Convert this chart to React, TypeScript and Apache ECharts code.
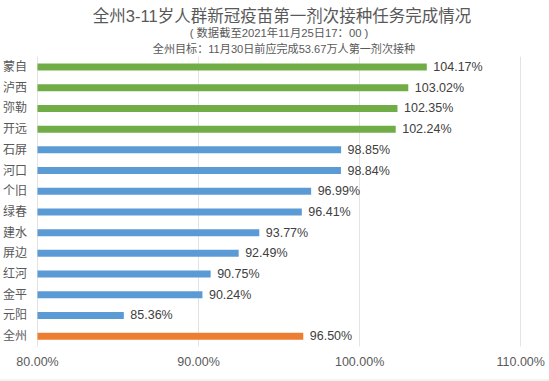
import React, { useEffect, useRef } from "react";
import * as echarts from "echarts";

const categories = ["蒙自", "泸西", "弥勒", "开远", "石屏", "河口", "个旧", "绿春", "建水", "屏边", "红河", "金平", "元阳", "全州"];
const values = [104.17, 103.02, 102.35, 102.24, 98.85, 98.84, 96.99, 96.41, 93.77, 92.49, 90.75, 90.24, 85.36, 96.5];
const groups = ["above", "above", "above", "above", "below", "below", "below", "below", "below", "below", "below", "below", "below", "total"];
const groupColors: Record<string, string> = { above: "#70ad47", below: "#5b9bd5", total: "#ed7d31" };

const titleText = "全州3-11岁人群新冠疫苗第一剂次接种任务完成情况";
const subText1 = "( 数据截至2021年11月25日17：00 )";
const subText2 = "全州目标：11月30日前应完成53.67万人第一剂次接种";

const FONT = "'Liberation Sans', 'Noto Sans CJK SC', sans-serif";

export default function App() {
  const ref = useRef<HTMLDivElement>(null);
  useEffect(() => {
    if (!ref.current) return;
    const chart = echarts.init(ref.current, undefined, { renderer: "svg" });
    chart.setOption({
      animation: false,
      backgroundColor: "#ffffff",
      textStyle: { fontFamily: FONT },
      graphic: [
        { type: "text", x: 282, y: 16, style: { text: titleText, fontSize: 16.5, fill: "#595959", textAlign: "center", textVerticalAlign: "middle", fontFamily: FONT } },
        { type: "text", x: 279, y: 33, style: { text: subText1, fontSize: 11.3, fill: "#595959", textAlign: "center", textVerticalAlign: "middle", fontFamily: FONT } },
        { type: "text", x: 284, y: 49, style: { text: subText2, fontSize: 11.1, fill: "#595959", textAlign: "center", textVerticalAlign: "middle", fontFamily: FONT } },
        { type: "line", shape: { x1: 0, y1: 380, x2: 549, y2: 380 }, style: { stroke: "#e6e6e6", lineWidth: 1 } },
      ],
      grid: { left: 37.5, right: 28.3, top: 56.7, bottom: 34.5, containLabel: false },
      xAxis: {
        type: "value",
        min: 80,
        max: 110,
        interval: 10,
        axisLine: { show: false },
        axisTick: { show: false },
        splitLine: { show: true, lineStyle: { color: "#e3e3e3", width: 1 } },
        axisLabel: {
          formatter: (v: number) => v.toFixed(2) + "%",
          color: "#595959",
          fontSize: 12.5,
          margin: 9,
          fontFamily: FONT,
        },
      },
      yAxis: {
        type: "category",
        data: categories,
        inverse: true,
        axisLine: { show: false },
        axisTick: { show: false },
        splitLine: { show: false },
        axisLabel: { color: "#595959", fontSize: 12, margin: 10.5, fontFamily: FONT },
      },
      series: [
        {
          type: "bar",
          data: values.map((v, i) => ({ value: v, itemStyle: { color: groupColors[groups[i]] } })),
          barWidth: 7,
          label: {
            show: true,
            position: "right",
            distance: 6.5,
            formatter: (p: any) => p.value.toFixed(2) + "%",
            color: "#404040",
            fontSize: 12.5,
            fontFamily: FONT,
          },
        },
      ],
    });
    return () => chart.dispose();
  }, []);
  return <div ref={ref} style={{ width: 549, height: 381, position: "absolute", left: 0, top: 0 }} />;
}
